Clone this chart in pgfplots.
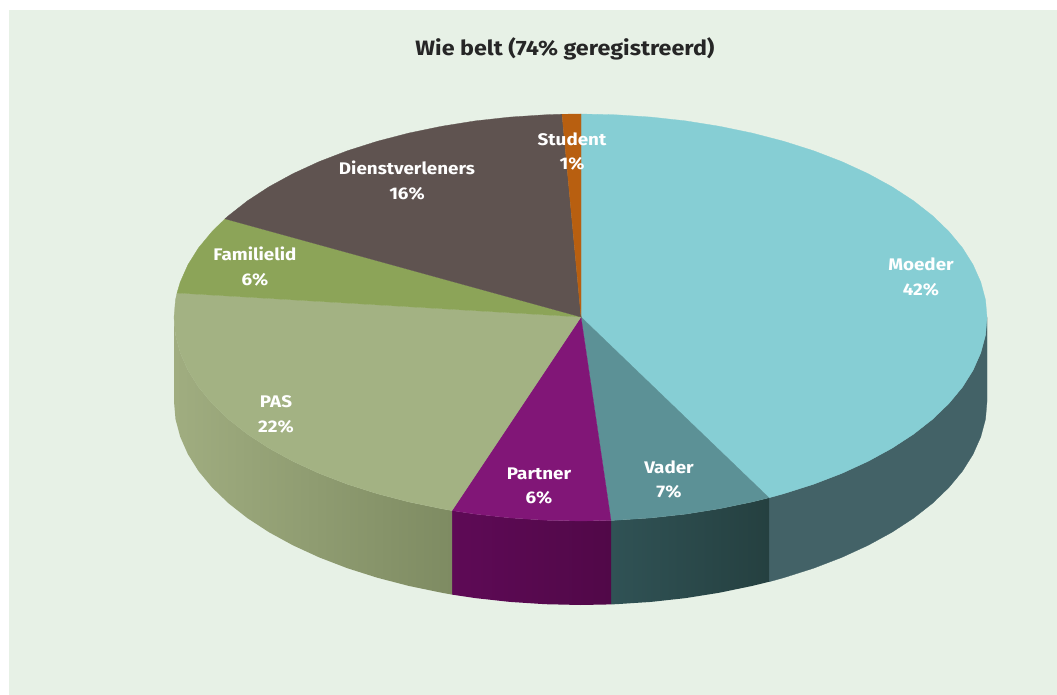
\documentclass[border=0pt]{standalone}
\usepackage{pgfplots}
\pgfplotsset{compat=1.18}
\usepackage{fontspec}
\setmainfont[FakeStretch=1.12]{Fira Sans}
\definecolor{bgc}{HTML}{E7F1E6}
\definecolor{moeder}{HTML}{86CED4}
\definecolor{moederS}{HTML}{436267}
\definecolor{vader}{HTML}{5C9196}
\definecolor{vaderL}{HTML}{305255}
\definecolor{vaderR}{HTML}{254040}
\definecolor{partner}{HTML}{811677}
\definecolor{partnerL}{HTML}{5E0A56}
\definecolor{partnerR}{HTML}{510848}
\definecolor{pas}{HTML}{A3B283}
\definecolor{pasL}{HTML}{A0AD80}
\definecolor{pasR}{HTML}{7E8B62}
\definecolor{familie}{HTML}{8CA458}
\definecolor{dienst}{HTML}{5F5350}
\definecolor{student}{HTML}{B85F10}
\newcommand{\lab}[3]{\node[anchor=base,text=white,font=\fontsize{12.6}{13}\selectfont\bfseries] at (axis cs:#1,#2) {#3};}
\begin{document}
\begin{tikzpicture}
\begin{axis}[
    scale only axis,
    width=792.75pt,
    height=521.25pt,
    xmin=0, xmax=1057,
    ymin=0, ymax=695,
    y dir=reverse,
    hide axis,
    axis background/.style={fill=white},
    slice/.style={fill=#1,draw=#1,line width=0.2pt,mark=none},
]
% background panel
\addplot[slice=bgc] coordinates {(9,10)(1057,10)(1057,695)(9,695)} -- cycle;

% sides
\addplot[slice=moederS] coordinates {(987,317.5)(985.5,335.2)(980.8,352.8)(973.1,370.2)(962.5,387.1)(948.9,403.5)(932.5,419.3)(913.5,434.2)(891.9,448.3)(867.9,461.4)(841.8,473.4)(813.7,484.2)(783.8,493.7)(769,497.8)
 (769,581.8)(783.8,577.7)(813.7,568.2)(841.8,557.4)(867.9,545.4)(891.9,532.3)(913.5,518.2)(932.5,503.3)(948.9,487.5)(962.5,471.1)(973.1,454.2)(980.8,436.8)(985.5,419.2)(987,401.5)} -- cycle;
\addplot[left color=vaderL,right color=vaderR,draw=none,mark=none] coordinates {(769,497.8)(752.3,501.9)(719.5,508.7)(685.7,514.1)(651.1,517.9)(615.9,520.2)(611,520.4)
 (611,604.4)(615.9,604.2)(651.1,601.9)(685.7,598.1)(719.5,592.7)(752.3,585.9)(769,581.8)} -- cycle;
\addplot[left color=partnerL,right color=partnerR,draw=none,mark=none] coordinates {(611,520.4)(580.5,521)(545.1,520.2)(509.9,517.9)(475.3,514.1)(452,510.6)
 (452,594.6)(475.3,598.1)(509.9,601.9)(545.1,604.2)(580.5,605)(611,604.4)} -- cycle;
\addplot[left color=pasL,right color=pasR,draw=none,mark=none] coordinates {(452,510.6)(441.5,508.7)(408.7,501.9)(377.2,493.7)(347.3,484.2)(319.2,473.4)(293.1,461.4)(269.1,448.3)(247.5,434.2)(228.5,419.3)(212.1,403.5)(198.5,387.1)(187.9,370.2)(180.2,352.8)(175.5,335.2)(174,317.5)
 (174,401.5)(175.5,419.2)(180.2,436.8)(187.9,454.2)(198.5,471.1)(212.1,487.5)(228.5,503.3)(247.5,518.2)(269.1,532.3)(293.1,545.4)(319.2,557.4)(347.3,568.2)(377.2,577.7)(408.7,585.9)(441.5,592.7)(452,594.6)} -- cycle;

% top face
\addplot[slice=moeder] coordinates {(581,317)(581,114)(615.9,114.8)(651.1,117.1)(685.7,120.9)(719.5,126.3)(752.3,133.1)(783.8,141.3)(813.7,150.8)(841.8,161.6)(867.9,173.6)(891.9,186.7)(913.5,200.8)(932.5,215.7)(948.9,231.5)(962.5,247.9)(973.1,264.8)(980.8,282.2)(985.5,299.8)(987,317.5)(985.5,335.2)(980.8,352.8)(973.1,370.2)(962.5,387.1)(948.9,403.5)(932.5,419.3)(913.5,434.2)(891.9,448.3)(867.9,461.4)(841.8,473.4)(813.7,484.2)(783.8,493.7)(769,497.8)} -- cycle;
\addplot[slice=vader] coordinates {(581,317)(769,497.8)(752.3,501.9)(719.5,508.7)(685.7,514.1)(651.1,517.9)(615.9,520.2)(611,520.4)} -- cycle;
\addplot[slice=partner] coordinates {(581,317)(611,520.4)(580.5,521)(545.1,520.2)(509.9,517.9)(475.3,514.1)(452,510.6)} -- cycle;
\addplot[slice=pas] coordinates {(581,317)(452,510.6)(441.5,508.7)(408.7,501.9)(377.2,493.7)(347.3,484.2)(319.2,473.4)(293.1,461.4)(269.1,448.3)(247.5,434.2)(228.5,419.3)(212.1,403.5)(198.5,387.1)(187.9,370.2)(180.2,352.8)(175.5,335.2)(174,317.5)(175.5,299.8)(177,293)} -- cycle;
\addplot[slice=familie] coordinates {(581,317)(177,293)(180.2,282.2)(187.9,264.8)(198.5,247.9)(212.1,231.5)(225,218.8)} -- cycle;
\addplot[slice=dienst] coordinates {(581,317)(225,218.8)(228.5,215.7)(247.5,200.8)(269.1,186.7)(293.1,173.6)(319.2,161.6)(347.3,150.8)(377.2,141.3)(408.7,133.1)(441.5,126.3)(475.3,120.9)(509.9,117.1)(545.1,114.8)(562,114.2)} -- cycle;
\addplot[slice=student] coordinates {(581,317)(562,114.2)(581,114)} -- cycle;

% labels
\node[anchor=base,text=black!85,font=\fontsize{15.6}{16}\selectfont\bfseries] at (axis cs:565,56) {Wie belt (74\% geregistreerd)};
\lab{921}{271}{Moeder}
\lab{921}{296}{42\%}
\lab{669}{473}{Vader}
\lab{669}{497}{7\%}
\lab{539}{479}{Partner}
\lab{539}{503}{6\%}
\lab{276}{407}{PAS}
\lab{276}{432}{22\%}
\lab{255}{261}{Familielid}
\lab{255}{286}{6\%}
\lab{407}{175}{Dienstverleners}
\lab{407}{200}{16\%}
\lab{572}{146}{Student}
\lab{572}{170}{1\%}
\end{axis}
\end{tikzpicture}
\end{document}
